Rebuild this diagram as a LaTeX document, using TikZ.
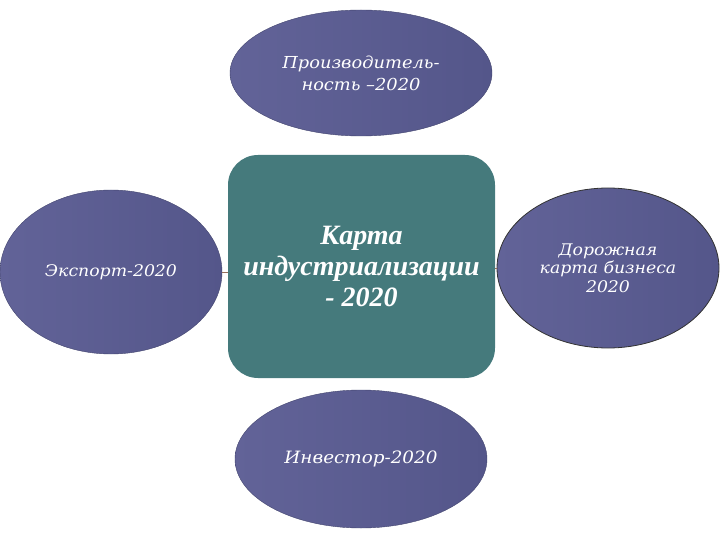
\documentclass[tikz,border=0pt]{standalone}
\usepackage{fontspec}
\setmainfont{Liberation Serif}
\newfontfamily\ovalfont[FakeStretch=1.08]{DejaVu Serif}
\usetikzlibrary{shapes.geometric}
\definecolor{ellfill}{RGB}{98,99,152}
\definecolor{ellfillB}{RGB}{84,86,138}
\definecolor{tealbox}{RGB}{69,122,124}
\definecolor{linkc}{RGB}{150,110,90}
\tikzset{
  oval/.style={ellipse, inner sep=0pt, left color=ellfill, right color=ellfillB,
     draw=ellfillB!80!black, line width=0.4pt, text=white, align=center,
     font=\ovalfont\itshape\fontsize{16}{21}\selectfont},
  ovaltext/.style={text=white, align=center, inner sep=0pt},
  hub/.style={rectangle, rounded corners=30pt, fill=tealbox, text=white, align=center,
     inner sep=0pt, font=\bfseries\itshape\fontsize{28}{31}\selectfont},
  link/.style={draw=linkc, line width=0.8pt}
}
\begin{document}
\begin{tikzpicture}[x=1pt,y=-1pt]
\useasboundingbox (0,0) rectangle (720,540);
\node[hub, minimum width=267pt, minimum height=223pt] (hub) at (361.5,266.5)
  {Карта\\индустриализации\\- 2020};
\node[oval, minimum width=262pt, minimum height=126pt, font=\ovalfont\itshape\fontsize{16.5}{22}\selectfont] (top) at (361,73)
  {Производитель-\\ность –2020};
\node[oval, minimum width=222pt, minimum height=164pt] (left) at (111,272)
  {Экспорт-2020};
\node[oval, minimum width=222pt, minimum height=160pt, draw=black!80, line width=0.8pt,
  label={[ovaltext, font=\ovalfont\itshape\fontsize{16}{18.5}\selectfont]center:{Дорожная\\карта бизнеса\\2020}}] (right) at (608,268) {};
\node[oval, minimum width=252pt, minimum height=138pt, font=\ovalfont\itshape\fontsize{17}{20}\selectfont] (bottom) at (361,459)
  {Инвестор-2020};
\draw[link] (left.east) -- (left.east -| hub.west);
\draw[link] (hub.east |- right.west) -- (right.west);
\end{tikzpicture}
\end{document}
